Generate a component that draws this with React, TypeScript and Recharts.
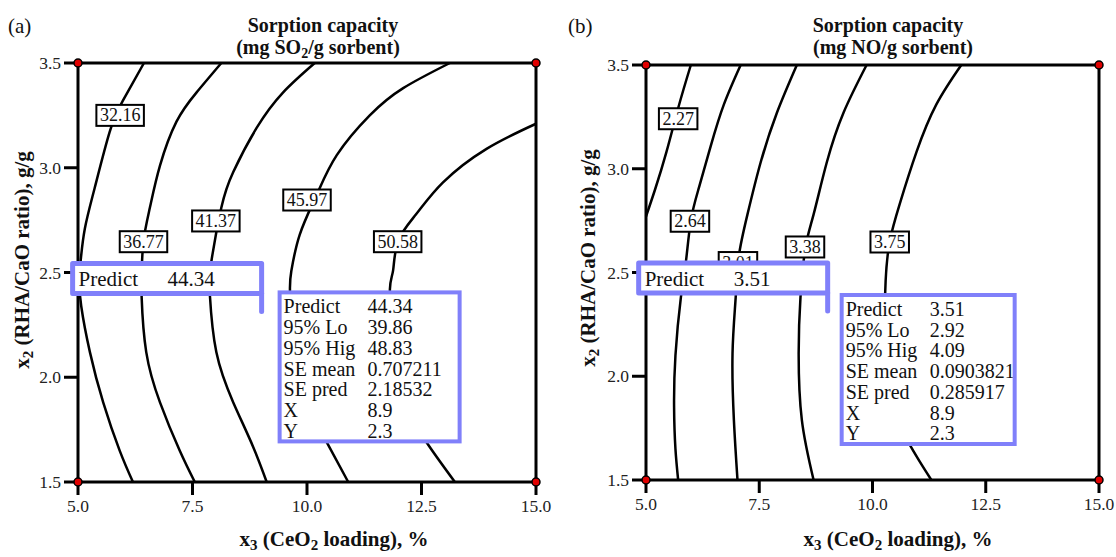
import React from 'react';
import { ComposedChart, Line, Scatter, XAxis, YAxis, ReferenceArea } from 'recharts';

type Pt = { x: number; y: number };
type Tag = { x: number; y: number; label: string };

const xTicks = [5, 7.5, 10, 12.5, 15];
const yTicks = [1.5, 2, 2.5, 3, 3.5];

// (a) SO2 sorption capacity contours
const so2Line3216: Pt[] = [
  { x: 6.44, y: 3.5 }, { x: 5.98, y: 3.32 }, { x: 5.69, y: 3.17 }, { x: 5.36, y: 2.9 },
  { x: 5.15, y: 2.71 }, { x: 5.06, y: 2.56 }, { x: 5.03, y: 2.46 }, { x: 5.07, y: 2.34 },
  { x: 5.26, y: 2.12 }, { x: 5.55, y: 1.88 }, { x: 5.91, y: 1.65 }, { x: 6.2, y: 1.5 },
];
const so2Line3677: Pt[] = [
  { x: 8.13, y: 3.5 }, { x: 7.59, y: 3.36 }, { x: 7.15, y: 3.22 }, { x: 6.79, y: 3.01 },
  { x: 6.57, y: 2.81 }, { x: 6.43, y: 2.65 }, { x: 6.39, y: 2.5 }, { x: 6.39, y: 2.38 },
  { x: 6.49, y: 2.12 }, { x: 6.79, y: 1.88 }, { x: 7.22, y: 1.65 }, { x: 7.55, y: 1.5 },
];
const so2Line4137: Pt[] = [
  { x: 10.17, y: 3.5 }, { x: 9.48, y: 3.36 }, { x: 8.9, y: 3.19 }, { x: 8.39, y: 2.98 },
  { x: 8.13, y: 2.81 }, { x: 7.91, y: 2.55 }, { x: 7.88, y: 2.39 }, { x: 8.02, y: 2.12 },
  { x: 8.39, y: 1.88 }, { x: 8.82, y: 1.67 }, { x: 9.12, y: 1.5 },
];
const so2Line4597: Pt[] = [
  { x: 13.12, y: 3.5 }, { x: 12.1, y: 3.38 }, { x: 11.37, y: 3.25 }, { x: 10.65, y: 3.06 },
  { x: 10.21, y: 2.87 }, { x: 9.84, y: 2.68 }, { x: 9.66, y: 2.51 }, { x: 9.63, y: 2.4 },
  { x: 9.74, y: 2.15 }, { x: 9.98, y: 1.95 }, { x: 10.2, y: 1.8 }, { x: 10.43, y: 1.69 },
  { x: 10.9, y: 1.5 },
];
const so2Line5058: Pt[] = [
  { x: 15, y: 3.21 }, { x: 13.92, y: 3.09 }, { x: 12.97, y: 2.93 }, { x: 12.39, y: 2.78 },
  { x: 11.99, y: 2.65 }, { x: 11.88, y: 2.51 }, { x: 11.81, y: 2.42 }, { x: 11.85, y: 2.2 },
  { x: 12.0, y: 2.0 }, { x: 12.3, y: 1.82 }, { x: 12.61, y: 1.69 }, { x: 13.23, y: 1.5 },
];
const so2Lines = [so2Line3216, so2Line3677, so2Line4137, so2Line4597, so2Line5058];

const so2Tags: Tag[] = [
  { x: 5.92, y: 3.25, label: '32.16' },
  { x: 6.43, y: 2.647, label: '36.77' },
  { x: 8.01, y: 2.746, label: '41.37' },
  { x: 10.0, y: 2.846, label: '45.97' },
  { x: 11.98, y: 2.647, label: '50.58' },
];

// (b) NO sorption capacity contours
const noLine227: Pt[] = [
  { x: 5.99, y: 3.5 }, { x: 5.72, y: 3.3 }, { x: 5.45, y: 3.08 }, { x: 5.2, y: 2.9 },
  { x: 5.0, y: 2.77 },
];
const noLine264: Pt[] = [
  { x: 7.09, y: 3.5 }, { x: 6.72, y: 3.31 }, { x: 6.43, y: 3.11 }, { x: 6.17, y: 2.91 },
  { x: 5.99, y: 2.75 }, { x: 5.88, y: 2.55 }, { x: 5.77, y: 2.38 }, { x: 5.65, y: 2.1 },
  { x: 5.62, y: 1.85 }, { x: 5.65, y: 1.65 }, { x: 5.71, y: 1.5 },
];
const noLine301: Pt[] = [
  { x: 8.33, y: 3.5 }, { x: 7.89, y: 3.27 }, { x: 7.53, y: 3.03 }, { x: 7.24, y: 2.78 },
  { x: 7.05, y: 2.58 }, { x: 6.98, y: 2.38 }, { x: 6.91, y: 2.11 }, { x: 6.94, y: 1.79 },
  { x: 7.02, y: 1.5 },
];
const noLine338: Pt[] = [
  { x: 9.87, y: 3.5 }, { x: 9.36, y: 3.27 }, { x: 8.99, y: 3.03 }, { x: 8.7, y: 2.78 },
  { x: 8.52, y: 2.62 }, { x: 8.41, y: 2.38 }, { x: 8.37, y: 2.11 }, { x: 8.44, y: 1.79 },
  { x: 8.7, y: 1.5 },
];
const noLine375: Pt[] = [
  { x: 11.96, y: 3.5 }, { x: 11.41, y: 3.31 }, { x: 10.97, y: 3.08 }, { x: 10.6, y: 2.83 },
  { x: 10.38, y: 2.65 }, { x: 10.29, y: 2.46 }, { x: 10.28, y: 2.2 }, { x: 10.4, y: 1.95 },
  { x: 10.62, y: 1.76 }, { x: 10.82, y: 1.67 }, { x: 11.04, y: 1.59 }, { x: 11.3, y: 1.5 },
];
const noLines = [noLine227, noLine264, noLine301, noLine338, noLine375];

const noTags: Tag[] = [
  { x: 5.71, y: 3.241, label: '2.27' },
  { x: 5.97, y: 2.747, label: '2.64' },
  { x: 7.03, y: 2.548, label: '3.01' },
  { x: 8.51, y: 2.623, label: '3.38' },
  { x: 10.38, y: 2.647, label: '3.75' },
];

const corners: Pt[] = [
  { x: 5, y: 1.5 }, { x: 5, y: 3.5 }, { x: 15, y: 1.5 }, { x: 15, y: 3.5 },
];

const predictPoint: Pt[] = [{ x: 8.9, y: 2.3 }];

const so2Readout: [string, string][] = [
  ['Predict', '44.34'], ['95% Lo', '39.86'], ['95% Hig', '48.83'], ['SE mean', '0.707211'],
  ['SE pred', '2.18532'], ['X', '8.9'], ['Y', '2.3'],
];
const noReadout: [string, string][] = [
  ['Predict', '3.51'], ['95% Lo', '2.92'], ['95% Hig', '4.09'], ['SE mean', '0.0903821'],
  ['SE pred', '0.285917'], ['X', '8.9'], ['Y', '2.3'],
];

const SERIF = '"Liberation Serif", "Times New Roman", Times, serif';
const BLUE = '#8080fa';

const ContourTag = (props: any) => {
  const { cx, cy, payload } = props;
  const w = 9 * payload.label.length + 2.5;
  return (
    <g>
      <rect x={cx - w / 2} y={cy - 10.5} width={w} height={21} fill="#fff" stroke="#000" strokeWidth={2} />
      <text x={cx} y={cy + 6} textAnchor="middle" style={{ fontFamily: SERIF }} fontSize={18} fill="#111">
        {payload.label}
      </text>
    </g>
  );
};

const CornerDot = (props: any) => (
  <circle cx={props.cx} cy={props.cy} r={4} fill="#e00000" stroke="#000" strokeWidth={1.5} />
);

function makeReadout(rows: [string, string][], boxDx: number, boxDy: number, boxW: number) {
  return (props: any) => {
    const { cx, cy } = props;
    const fl = cx - 184;
    const fr = cx + 5;
    const ft = cy - 51;
    const fb = cy - 21;
    const bl = cx + boxDx;
    const bt = cy + boxDy;
    const bh = 149;
    const txt = { style: { fontFamily: SERIF }, fontSize: 20, fill: '#111' };
    return (
      <g>
        <rect x={fl} y={ft} width={fr - fl} height={fb - ft} fill="#fff" stroke={BLUE} strokeWidth={5} strokeLinejoin="round" />
        <line x1={fr} y1={fb} x2={fr} y2={cy - 3} stroke={BLUE} strokeWidth={5} strokeLinecap="round" />
        <text x={fl + 6} y={ft + 23} {...txt} fontSize={21}>Predict</text>
        <text x={fl + 95} y={ft + 23} {...txt} fontSize={21}>{rows[0][1]}</text>
        <rect x={bl} y={bt} width={boxW} height={bh} fill="#fff" />
        {rows.map(([k, v], i) => (
          <g key={k}>
            <text x={bl + 4} y={bt + 21 + i * 20.7} {...txt}>{k}</text>
            <text x={bl + 88} y={bt + 21 + i * 20.7} {...txt}>{v}</text>
          </g>
        ))}
        <rect x={bl} y={bt} width={boxW} height={bh} fill="none" stroke={BLUE} strokeWidth={4} />
      </g>
    );
  };
}

interface PanelProps {
  left: number;
  width: number;
  top: number;
  right: number;
  yAxisWidth: number;
  xAxisHeight: number;
  lines: Pt[][];
  tags: Tag[];
  readout: [string, string][];
  boxDx: number;
  boxDy: number;
  boxW: number;
}

function Panel(p: PanelProps) {
  const tickStyle = { fontFamily: SERIF, fontSize: 17.5, fill: '#222', style: { fontFamily: SERIF } };
  return (
    <div style={{ position: 'absolute', left: p.left, top: 0 }}>
      <ComposedChart width={p.width} height={557} margin={{ top: p.top, right: p.right, bottom: 0, left: 0 }}>
        <XAxis
          type="number"
          dataKey="x"
          domain={[5, 15]}
          ticks={xTicks}
          interval={0}
          tickFormatter={(v: number) => v.toFixed(1)}
          tick={tickStyle}
          tickSize={13}
          tickMargin={5}
          tickLine={{ stroke: '#000', strokeWidth: 3 }}
          axisLine={false}
          height={p.xAxisHeight}
        />
        <YAxis
          type="number"
          dataKey="y"
          domain={[1.5, 3.5]}
          ticks={yTicks}
          interval={0}
          tickFormatter={(v: number) => v.toFixed(1)}
          tick={tickStyle}
          tickSize={14}
          tickMargin={3}
          tickLine={{ stroke: '#000', strokeWidth: 3 }}
          axisLine={false}
          width={p.yAxisWidth}
        />
        <ReferenceArea x1={5} x2={15} y1={1.5} y2={3.5} fill="#fff" fillOpacity={0} stroke="#000" strokeWidth={3} />
        {p.lines.map((pts, i) => (
          <Line
            key={i}
            data={pts}
            dataKey="y"
            type="natural"
            stroke="#000"
            strokeWidth={2.5}
            dot={false}
            activeDot={false}
            isAnimationActive={false}
          />
        ))}
        <Scatter data={p.tags} shape={ContourTag} isAnimationActive={false} />
        <Scatter data={corners} shape={CornerDot} isAnimationActive={false} />
        <Scatter data={predictPoint} shape={makeReadout(p.readout, p.boxDx, p.boxDy, p.boxW)} isAnimationActive={false} />
      </ComposedChart>
    </div>
  );
}

function Titles() {
  const bold = { style: { fontFamily: SERIF }, fontSize: 21, fontWeight: 700, fill: '#111' } as const;
  const plain = { style: { fontFamily: SERIF }, fontSize: 21, fill: '#111' } as const;
  const xTitle = (cx: number) => (
    <text x={cx} y={546} textAnchor="middle" {...bold}>
      x<tspan dy={4} fontSize={15}>3</tspan>
      <tspan dy={-4}> (CeO</tspan>
      <tspan dy={4} fontSize={15}>2</tspan>
      <tspan dy={-4}> loading), %</tspan>
    </text>
  );
  const yTitle = (bx: number, cy: number) => (
    <text transform={`translate(${bx},${cy}) rotate(-90)`} textAnchor="middle" {...bold}>
      x<tspan dy={4} fontSize={15}>2</tspan>
      <tspan dy={-4}> (RHA/CaO ratio), g/g</tspan>
    </text>
  );
  return (
    <svg width={1116} height={557} style={{ position: 'absolute', left: 0, top: 0, pointerEvents: 'none' }}>
      <text x={8} y={33} {...plain}>(a)</text>
      <text x={568} y={33} {...plain}>(b)</text>
      <text x={323} y={32} textAnchor="middle" {...bold} fontSize={20}>Sorption capacity</text>
      <text x={318} y={54} textAnchor="middle" {...bold} fontSize={20}>
        (mg SO<tspan dy={4} fontSize={14}>2</tspan>
        <tspan dy={-4}>/g sorbent)</tspan>
      </text>
      <text x={888} y={32} textAnchor="middle" {...bold} fontSize={20}>Sorption capacity</text>
      <text x={893} y={54} textAnchor="middle" {...bold} fontSize={20}>(mg NO/g sorbent)</text>
      {xTitle(334)}
      {xTitle(898)}
      {yTitle(29, 260)}
      {yTitle(595, 258)}
    </svg>
  );
}

export default function App() {
  return (
    <div
      style={{
        position: 'absolute',
        left: 0,
        top: 0,
        width: 1116,
        height: 557,
        background: '#fff',
        fontFamily: SERIF,
      }}
    >
      <Panel
        left={0}
        width={560}
        top={63}
        right={24}
        yAxisWidth={78}
        xAxisHeight={75}
        lines={so2Lines}
        tags={so2Tags}
        readout={so2Readout}
        boxDx={23}
        boxDy={-22}
        boxW={180}
      />
      <Panel
        left={560}
        width={556}
        top={65}
        right={17}
        yAxisWidth={86}
        xAxisHeight={77}
        lines={noLines}
        tags={noTags}
        readout={noReadout}
        boxDx={19}
        boxDy={-19}
        boxW={173}
      />
      <Titles />
    </div>
  );
}
